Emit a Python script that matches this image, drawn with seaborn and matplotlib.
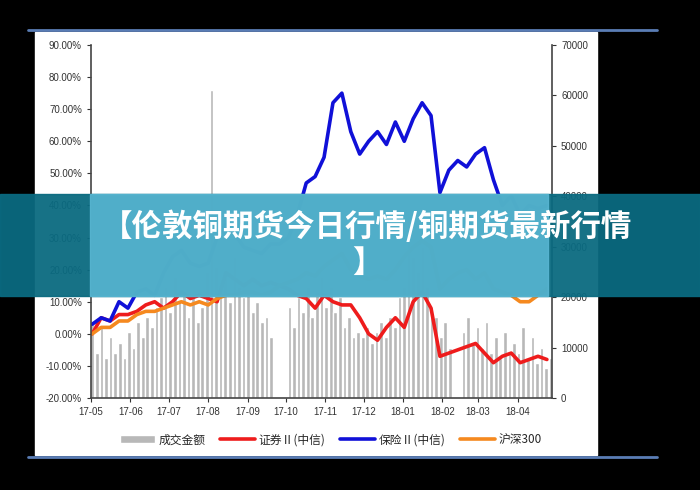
import matplotlib
matplotlib.use("Agg")
import matplotlib.pyplot as plt
import matplotlib.patches as mpatches
import matplotlib.dates as mdates
from matplotlib.ticker import FuncFormatter
import numpy as np
import pandas as pd
import seaborn as sns

# ---------------------------------------------------------------------------
# data (weekly for the lines, half-weekly for the bars)

insurance = [3, 5, 4, 10, 8, 13, 14, 12, 19, 24, 26, 22, 21, 22, 30, 34, 31, 27, 26, 25,
             28, 28, 30, 37, 47, 49, 55, 72, 75, 63, 56, 60, 63, 59, 66, 60, 67, 72, 68, 44,
             51, 54, 52, 56, 58, 48, 40, 43, 37, 40, 39, 40]
securities = [0, 5, 4, 6, 6, 7, 9, 10, 8, 10, 13, 11, 12, 11, 10, 19, 17, 15, 17, 15,
              16, 15, 14, 12, 11, 8, 12, 10, 9, 9, 5, 0, -2, 2, 5, 2, 10, 13, 8, -7,
              -6, -5, -4, -3, -6, -9, -7, -6, -9, -8, -7, -8]
hs300 = [0, 2, 2, 4, 4, 6, 7, 7, 8, 9, 10, 9, 10, 9, 11, 12, 12, 13, 13, 12,
         13, 15, 16, 17, 19, 18, 21, 23, 25, 20, 18, 17, 18, 17, 20, 24, 27, 29, 27, 14,
         17, 19, 20, 17, 19, 14, 13, 12, 10, 10, 12, 14]
turnover = [15000, 9000, 14000, 8000, 12000, 9000, 11000, 8000,
            13000, 10000, 15000, 12000, 16000, 14000, 18000, 20000,
            22000, 17000, 24000, 19000, 21000, 16000, 20000, 15000, 18000,
            25000, 61000, 26000, 22000, 24000, 19000, 28000, 22000, 20000,
            21000, 17000, 19000, 15000, 16000, 12000, 0, 0,
            0, 18000, 14000, 20000, 17000, 22000, 16000, 21000,
            24000, 18000, 22000, 17000, 20000, 14000, 16000, 12000, 13000,
            12000, 14000, 11000, 13000, 15000, 12000, 16000, 14000,
            20000, 22000, 36000, 28000, 25000, 30000, 22000, 18000, 16000,
            12000, 15000, 10000, 0, 0, 13000, 16000, 11000,
            14000, 10000, 15000, 9000, 12000, 8000, 13000, 9000, 11000,
            9000, 14000, 8000, 12000, 7000, 10000, 6000, 8000]
legend_labels = ["成交金额", "证券Ⅱ(中信)", "保险Ⅱ(中信)", "沪深300"]
title = "【伦敦铜期货今日行情/铜期货最新行情\n】"

week_dates = pd.date_range("2017-05-02", periods=len(insurance), freq="7D")
bar_dates = pd.date_range("2017-05-02", "2018-04-27", periods=len(turnover))
lines = pd.DataFrame({"date": week_dates, "sec": securities, "ins": insurance, "hs": hs300})

# ---------------------------------------------------------------------------
sns.set_style("white")
plt.rcParams["font.family"] = ["Liberation Sans", "Noto Sans CJK SC", "DejaVu Sans"]

fig = plt.figure(figsize=(7, 4.9), dpi=100, facecolor="black")
fig.patches.append(mpatches.Rectangle((35 / 700, 35 / 490), 562 / 700, 423 / 490,
                                      transform=fig.transFigure, color="white", zorder=-5))
for yy in (30, 457):
    fig.add_artist(plt.Line2D([28 / 700, 657 / 700], [1 - yy / 490] * 2, color="#5a7db5",
                              lw=2, transform=fig.transFigure))

ax = fig.add_axes([91 / 700, 92 / 490, 461 / 700, 353 / 490])
ax2 = ax.twinx()
ax2.set_zorder(1)
ax.set_zorder(2)
ax.patch.set_visible(False)
ax2.patch.set_visible(False)

ax2.bar(bar_dates, turnover, width=2.9, color="#b8b8b8", label=legend_labels[0])
ax2.set_ylim(0, 70000)
ax2.set_yticks(range(0, 70001, 10000))

sns.lineplot(data=lines, x="date", y="sec", ax=ax, color="#ee1c1c", lw=2.6, label=legend_labels[1])
sns.lineplot(data=lines, x="date", y="ins", ax=ax, color="#1010d8", lw=2.6, label=legend_labels[2])
sns.lineplot(data=lines, x="date", y="hs", ax=ax, color="#f5891f", lw=2.6, label=legend_labels[3])
ax.set_ylim(-20, 90)
ax.set_yticks(range(-20, 91, 10))
ax.yaxis.set_major_formatter(FuncFormatter(lambda v, _: f"{v:.2f}%"))
ax.set_xlim(pd.Timestamp("2017-05-01"), pd.Timestamp("2018-04-28"))
ax.xaxis.set_major_locator(mdates.MonthLocator())
ax.xaxis.set_major_formatter(mdates.DateFormatter("%y-%m"))
ax.set_xlabel("")
ax.set_ylabel("")

for a in (ax, ax2):
    for s in a.spines.values():
        s.set_visible(False)
ax.spines["left"].set_visible(True)
ax.spines["bottom"].set_visible(True)
ax2.spines["right"].set_visible(True)
for a, s in ((ax, "left"), (ax, "bottom"), (ax2, "right")):
    a.spines[s].set_color("#444444")
    a.spines[s].set_linewidth(1.2)
ax.tick_params(labelsize=7, length=3, direction="out", colors="#333333", left=True, bottom=True)
ax2.tick_params(labelsize=7, length=3, direction="out", colors="#333333", right=True,
                labelright=True)

h1, l1 = ax.get_legend_handles_labels()
h2, l2 = ax2.get_legend_handles_labels()
ax.legend(h2 + h1, l2 + l1, loc="upper center", bbox_to_anchor=(0.52, -0.07), ncol=4,
          frameon=False, handlelength=3, columnspacing=1.2, handletextpad=0.3,
          prop={"family": ["Noto Sans CJK SC", "DejaVu Sans"], "size": 8.5})

# banner
fig.patches.append(mpatches.Rectangle((0, 194 / 490), 1, 102 / 490, transform=fig.transFigure,
                                      color="#0a6a80", alpha=0.95, zorder=5))
fig.patches.append(mpatches.Rectangle((90 / 700, 194 / 490), 458 / 700, 102 / 490,
                                      transform=fig.transFigure, color="#5bb9d5", alpha=0.85, zorder=6))
fig.text(0.525, 0.5, title, ha="center", va="center", color="white", fontsize=22,
         fontweight="bold", linespacing=1.15, zorder=7,
         family=["Noto Sans CJK SC", "DejaVu Sans"])

fig.savefig("out.png", dpi=100, facecolor="black")
